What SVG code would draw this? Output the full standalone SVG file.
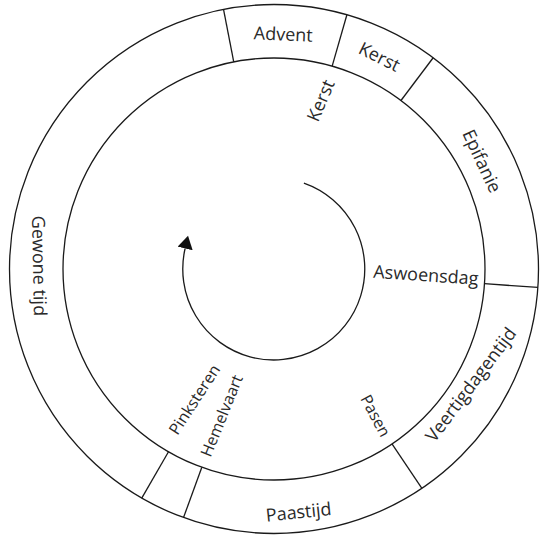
<svg xmlns="http://www.w3.org/2000/svg" width="540" height="535" viewBox="0 0 540 535">
<defs>
<style>
.ring{fill:none;stroke:#1a1a1a;stroke-width:1.3}
.div{stroke:#1a1a1a;stroke-width:1.3}
.lbl{font-family:"Open Sans","Liberation Sans",sans-serif;font-size:18px;fill:#2a2a2a}
.sm{font-size:16px}
.mid{text-anchor:middle}
.end{text-anchor:end}
</style>
<marker id="ah" markerUnits="userSpaceOnUse" markerWidth="14" markerHeight="16" refX="0" refY="7.75" orient="auto">
<path d="M0,0 L13,7.75 L0,15.5 z" fill="#111"/>
</marker>
</defs>
<rect width="540" height="535" fill="#fff"/>
<g id="wheel">
<circle class="ring" cx="274" cy="269" r="264.5"/>
<circle class="ring" cx="274" cy="269" r="211"/>
</g>
<g id="connectors">
<g class="div">
<line x1="211" y1="0" x2="264.5" y2="0" transform="translate(274 269) rotate(-101)"/>
<line x1="211" y1="0" x2="264.5" y2="0" transform="translate(274 269) rotate(-74)"/>
<line x1="211" y1="0" x2="264.5" y2="0" transform="translate(274 269) rotate(-53)"/>
<line x1="211" y1="0" x2="264.5" y2="0" transform="translate(274 269) rotate(4)"/>
<line x1="211" y1="0" x2="264.5" y2="0" transform="translate(274 269) rotate(56)"/>
<line x1="211" y1="0" x2="264.5" y2="0" transform="translate(274 269) rotate(110)"/>
<line x1="211" y1="0" x2="264.5" y2="0" transform="translate(274 269) rotate(120)"/>
</g>
<path id="cycle-arrow" d="M303.9,183.1 A91,91 0 1 1 185.1,248.5" fill="none" stroke="#1a1a1a" stroke-width="1.3" marker-end="url(#ah)"/>
</g>
<g id="advent"><text class="lbl mid" transform="translate(283 40.5) rotate(2.5)">Advent</text></g>
<g id="kerst-tijd"><text class="lbl mid" transform="translate(376.6 62.4) rotate(26.5)">Kerst</text></g>
<g id="epifanie"><text class="lbl mid" transform="translate(476.2 163.7) rotate(65)">Epifanie</text></g>
<g id="veertigdagentijd"><text class="lbl mid" transform="translate(475.8 388.4) rotate(-53)">Veertigdagentijd</text></g>
<g id="paastijd"><text class="lbl mid" transform="translate(299.2 518.3) rotate(-6)">Paastijd</text></g>
<g id="gewone-tijd"><text class="lbl mid" transform="translate(33 266) rotate(89)">Gewone tijd</text></g>
<g id="kerst"><text class="lbl" transform="translate(318 123) rotate(-67)">Kerst</text></g>
<g id="aswoensdag"><text class="lbl end" transform="translate(478 285) rotate(4)">Aswoensdag</text></g>
<g id="pasen"><text class="lbl sm" transform="translate(360 398.6) rotate(62)">Pasen</text></g>
<g id="pinksteren"><text class="lbl sm" transform="translate(177.6 436) rotate(-57)">Pinksteren</text></g>
<g id="hemelvaart"><text class="lbl sm" transform="translate(210.6 458) rotate(-68)">Hemelvaart</text></g>
</svg>
